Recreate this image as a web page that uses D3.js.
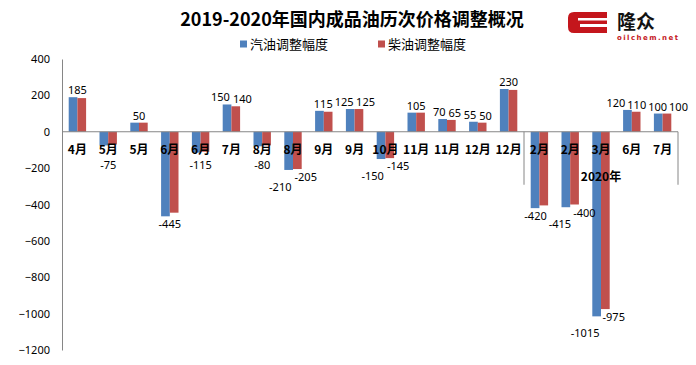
<!DOCTYPE html>
<html><head><meta charset="utf-8">
<script src="https://cdn.jsdelivr.net/npm/d3@7"></script>
<style>
html,body{margin:0;padding:0;background:#fff;}
svg{display:block;}
</style></head>
<body>
<svg id="chart" width="696" height="365"></svg>
<script>
// ---- data ----
const categories = ["4月","5月","5月","6月","6月","7月","8月","8月","9月","9月","10月","11月","11月","12月","12月","2月","2月","3月","6月","7月"];
const gasoline = [190,-75,50,-465,-115,150,-80,-210,115,125,-150,105,70,55,235,-420,-415,-1015,120,100];
const diesel   = [185,-70,50,-445,-110,140,-75,-205,110,125,-145,105,65,50,230,-405,-400,-975,110,100];
const gasLabels = ["185","-75","50","-445","-115","150","-80","-210","115","125","-150","105","70","55","230","-420","-415","-1015","120","100"];
const dieLabels = [null,null,null,null,null,"140",null,"-205",null,"125","-145",null,"65","50",null,null,"-400","-975","110","100"];
const seriesNames = ["汽油调整幅度","柴油调整幅度"];
const colors = ["#4F81BD","#C0504D"];
const yTicks = [400,200,0,-200,-400,-600,-800,-1000,-1200];
const groupLabel = "2020年";
const groupStart = 15; // index where 2020 begins
const title = "2019-2020年国内成品油历次价格调整概况";

const svg = d3.select("#chart");
const L = 62, R = 678, T = 59, B = 350;
const cjk = "'Noto Sans CJK SC','Noto Sans',sans-serif";

const x = d3.scaleBand().domain(d3.range(categories.length)).range([L, R]).padding(0);
const x1 = d3.scaleBand().domain([0,1]).range([0, x.bandwidth()]).paddingInner(0).paddingOuter(0.77);
const y = d3.scaleLinear().domain([-1200, 400]).range([B, T]);

// title
svg.append("text").attr("x", 352).attr("y", 26).attr("text-anchor","middle")
  .attr("font-family", cjk).attr("font-weight","bold").attr("font-size", 18).attr("fill","#000")
  .text(title);

// legend
const leg = svg.append("g");
const legX = [240, 378];
seriesNames.forEach((n,i)=>{
  leg.append("rect").attr("x", legX[i]).attr("y", 40.5).attr("width",7).attr("height",7).attr("fill",colors[i]);
  leg.append("text").attr("x", legX[i]+10).attr("y", 49).attr("font-family", cjk).attr("font-size", 13)
    .attr("fill","#000").text(n);
});

// logo
const logo = svg.append("g");
logo.append("path").attr("d","M574,12 H607 V24 H580 V27 H607 V33 H574 Q568,33 568,27 V18 Q568,12 574,12 Z").attr("fill","#c4161c");
logo.append("rect").attr("x",578).attr("y",18).attr("width",29).attr("height",2.5).attr("fill","#fff");
logo.append("text").attr("x",617).attr("y",29).attr("font-family",cjk).attr("font-weight","bold")
  .attr("font-size",19).attr("fill","#111").text("隆众");
logo.append("text").attr("x",617).attr("y",40).attr("font-family","'DejaVu Sans',sans-serif").attr("font-weight","bold")
  .attr("font-size",7).attr("fill","#c4161c").attr("textLength",61).text("oilchem.net");

// y axis
const yAxis = d3.axisLeft(y).tickValues(yTicks).tickSize(0).tickPadding(12).tickFormat(d3.format("d"));
const gy = svg.append("g").attr("transform",`translate(${L},0)`).call(yAxis);
gy.select(".domain").attr("stroke","#868686");
gy.selectAll(".tick text").attr("font-family","'Noto Sans',sans-serif").attr("font-size",11).attr("fill","#000");

// bars
const series = [gasoline, diesel];
series.forEach((vals, s)=>{
  svg.append("g").selectAll("rect").data(vals).join("rect")
    .attr("x",(d,i)=>x(i)+x1(s))
    .attr("width", x1.bandwidth())
    .attr("y", d=> y(Math.max(0,d)))
    .attr("height", d=> Math.abs(y(d)-y(0)))
    .attr("fill", colors[s]);
});

// x axis line & group separators
svg.append("line").attr("x1",L).attr("x2",R).attr("y1",y(0)).attr("y2",y(0)).attr("stroke","#868686");
[x(groupStart), R].forEach(px=>{
  svg.append("line").attr("x1",px).attr("x2",px).attr("y1",y(0)).attr("y2",y(0)+53).attr("stroke","#868686");
});

// category labels
const catBase = y(0)+22;
svg.append("g").selectAll("text").data(categories).join("text")
  .attr("x",(d,i)=>x(i)+x.bandwidth()/2).attr("y", catBase)
  .attr("text-anchor","middle").attr("font-family",cjk).attr("font-weight","bold").attr("font-size",12)
  .attr("fill","#000").text(d=>d);
svg.append("text").attr("x",(x(groupStart)+R)/2).attr("y",y(0)+49).attr("text-anchor","middle")
  .attr("font-family",cjk).attr("font-weight","bold").attr("font-size",12).attr("fill","#000").text(groupLabel);

// data labels
const lblG = svg.append("g").attr("font-family","'Noto Sans',sans-serif").attr("font-size",11).attr("fill","#000");
const placed = [];
categories.forEach((c,i)=>{
  const both = gasLabels[i] != null && dieLabels[i] != null;
  const cx = x(i)+x.bandwidth()/2;
  [gasLabels, dieLabels].forEach((arr,s)=>{
    const t = arr[i];
    if (t == null) return;
    const v = series[s][i];
    let ty;
    if (v >= 0) ty = y(v) - 3;
    else {
      ty = y(v) + 12 + (both && s===0 ? 9 : 0);
      if (ty < catBase + 15) ty = catBase + 15; // keep clear of category labels
    }
    const el = lblG.append("text").attr("y", ty).attr("text-anchor","start").text(t);
    const w = el.node().getComputedTextLength();
    let left;
    if (!both) left = cx - w/2;
    else left = s===0 ? cx - 1.5 - w : cx + 1.5;
    placed.push({el, left, w, y: ty});
  });
});
// simple horizontal collision relaxation between neighbouring labels
for (let pass=0; pass<8; pass++){
  placed.sort((a,b)=>a.left-b.left);
  for (let k=0;k<placed.length;k++){
    for (let m=k+1;m<placed.length;m++){
      const a = placed[k], b = placed[m];
      if (Math.abs(a.y-b.y) >= 12) continue;
      const ov = a.left + a.w + 2 - b.left;
      if (ov > 0){ a.left -= ov/2; b.left += ov/2; }
    }
  }
}
placed.forEach(p=> p.el.attr("x", p.left));
</script>
</body></html>
